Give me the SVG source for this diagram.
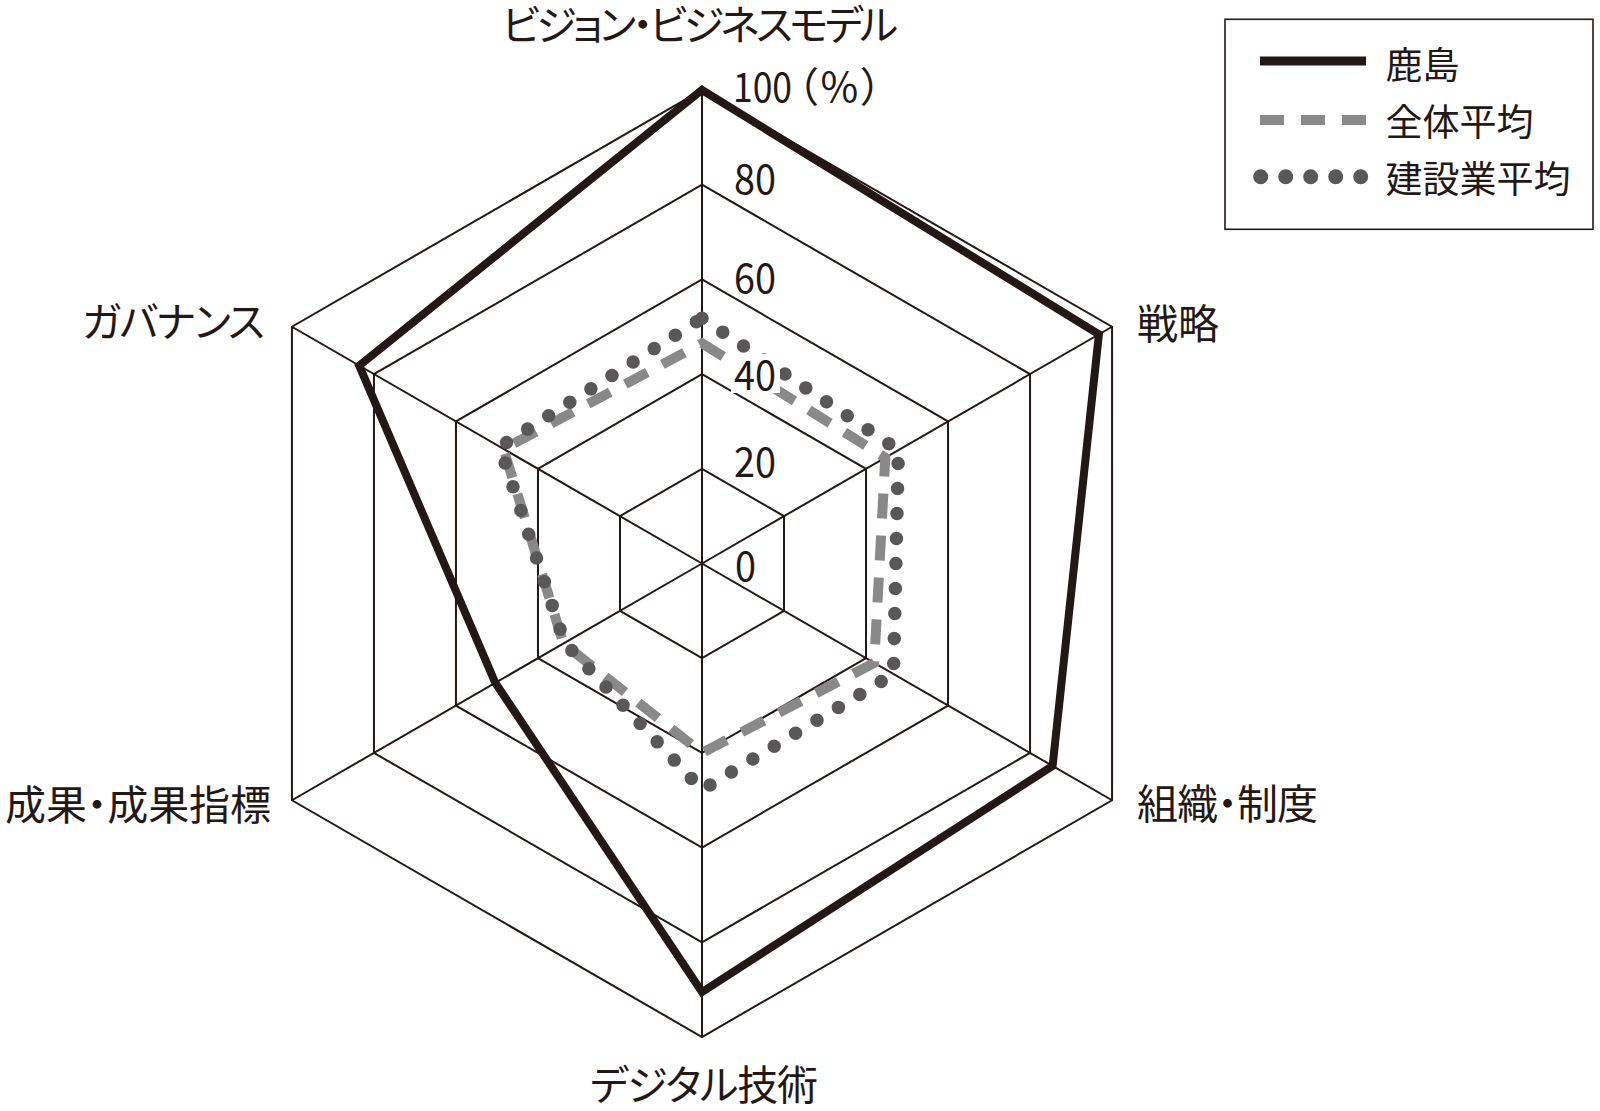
<svg xmlns="http://www.w3.org/2000/svg" width="1600" height="1111" viewBox="0 0 1600 1111">
<style>
.grid{fill:none;stroke:#231815;stroke-width:2;stroke-linejoin:miter}
.kashima{fill:none;stroke:#231815;stroke-width:8;stroke-linejoin:miter;stroke-miterlimit:10}
.avg{fill:none;stroke:#898989;stroke-width:10;stroke-dasharray:25 17;stroke-linejoin:miter}
.con{fill:none;stroke:#595757;stroke-width:13.5;stroke-dasharray:0 25;stroke-linecap:round;stroke-linejoin:round}
.t{font-family:"Noto Sans CJK JP","Noto Sans",sans-serif;fill:#231815;font-feature-settings:"palt"}
.lbl{font-size:41px}
.leg{font-size:37px;font-feature-settings:normal}
.num{font-size:41px;font-feature-settings:normal}
.pct{font-size:41px;letter-spacing:3px}
.knock{fill:#ffffff}
</style>
<rect width="1600" height="1111" fill="#ffffff"/>
<g id="grid">
<polygon class="grid" points="702,468.8 784.01,516.15 784.01,610.85 702,658.2 619.99,610.85 619.99,516.15"/>
<polygon class="grid" points="702,374.1 866.02,468.8 866.02,658.2 702,752.9 537.98,658.2 537.98,468.8"/>
<polygon class="grid" points="702,279.4 948.04,421.45 948.04,705.55 702,847.6 455.96,705.55 455.96,421.45"/>
<polygon class="grid" points="702,184.7 1030.05,374.1 1030.05,752.9 702,942.3 373.95,752.9 373.95,374.1"/>
<polygon class="grid" points="702,90 1112.06,326.75 1112.06,800.25 702,1037 291.94,800.25 291.94,326.75"/>
<path class="grid" d="M702,563.5V90M702,563.5L1112.06,326.75M702,563.5L1112.06,800.25M702,563.5V1037M702,563.5L291.94,800.25M702,563.5L291.94,326.75"/>
</g>
<g id="series">
<polygon id="series-avg" class="avg" points="702,343.3 885.3,457.7 874.2,662.9 702,752.9 563.4,643.5 503.5,448.9"/>
<polygon id="series-construction" class="con" points="702,318.2 898.4,450.1 893.5,674.1 702,789.8 564.6,642.8 499.8,446.8"/>
<polygon id="series-kashima" class="kashima" points="702,90 1098.9,334.3 1052.6,765.9 702,992 495.3,682.8 359.2,365.6"/>
</g>
<g id="scale">
<rect class="knock" x="732" y="70" width="62" height="34"/>
<rect class="knock" x="732" y="162" width="47" height="34"/>
<rect class="knock" x="732" y="261" width="47" height="34"/>
<rect class="knock" x="731" y="354" width="49" height="39"/>
<rect class="knock" x="732" y="445" width="47" height="34"/>
<text class="t num" x="733" y="101.7" textLength="59" lengthAdjust="spacingAndGlyphs">100</text>
<text class="t pct" x="797" y="101.7">（%）</text>
<text class="t num" x="734" y="193.6" textLength="42" lengthAdjust="spacingAndGlyphs">80</text>
<text class="t num" x="734" y="292.5" textLength="42" lengthAdjust="spacingAndGlyphs">60</text>
<text class="t num" x="734" y="389.8" textLength="42" lengthAdjust="spacingAndGlyphs">40</text>
<text class="t num" x="734" y="476.7" textLength="42" lengthAdjust="spacingAndGlyphs">20</text>
<text class="t num" x="735" y="581" textLength="21" lengthAdjust="spacingAndGlyphs">0</text>
</g>
<g id="axis-vision"><text class="t lbl" x="700" y="39.5" text-anchor="middle" textLength="396" lengthAdjust="spacing">ビジョン・ビジネスモデル</text></g>
<g id="axis-strategy"><text class="t lbl" x="1137" y="338.8" textLength="82" lengthAdjust="spacing">戦略</text></g>
<g id="axis-organization"><text class="t lbl" x="1137" y="818.8" textLength="181" lengthAdjust="spacing">組織・制度</text></g>
<g id="axis-digital"><text class="t lbl" x="590" y="1100.4" textLength="228" lengthAdjust="spacing">デジタル技術</text></g>
<g id="axis-results"><text class="t lbl" x="5" y="820.4" textLength="266" lengthAdjust="spacing">成果・成果指標</text></g>
<g id="axis-governance"><text class="t lbl" x="82" y="337" textLength="183" lengthAdjust="spacing">ガバナンス</text></g>
<g id="legend">
<rect x="1225" y="19.3" width="368" height="210" fill="#ffffff" stroke="#231815" stroke-width="1.6"/>
<line x1="1260" y1="61" x2="1366" y2="61" stroke="#231815" stroke-width="9"/>
<line x1="1260" y1="120" x2="1366" y2="120" stroke="#898989" stroke-width="10" stroke-dasharray="24 17"/>
<line x1="1260.7" y1="176.7" x2="1361" y2="176.7" stroke="#595757" stroke-width="15" stroke-dasharray="0 25" stroke-linecap="round"/>
<text class="t leg" x="1385.5" y="78.5">鹿島</text>
<text class="t leg" x="1385.5" y="136">全体平均</text>
<text class="t leg" x="1385.5" y="192.5">建設業平均</text>
</g>
</svg>
